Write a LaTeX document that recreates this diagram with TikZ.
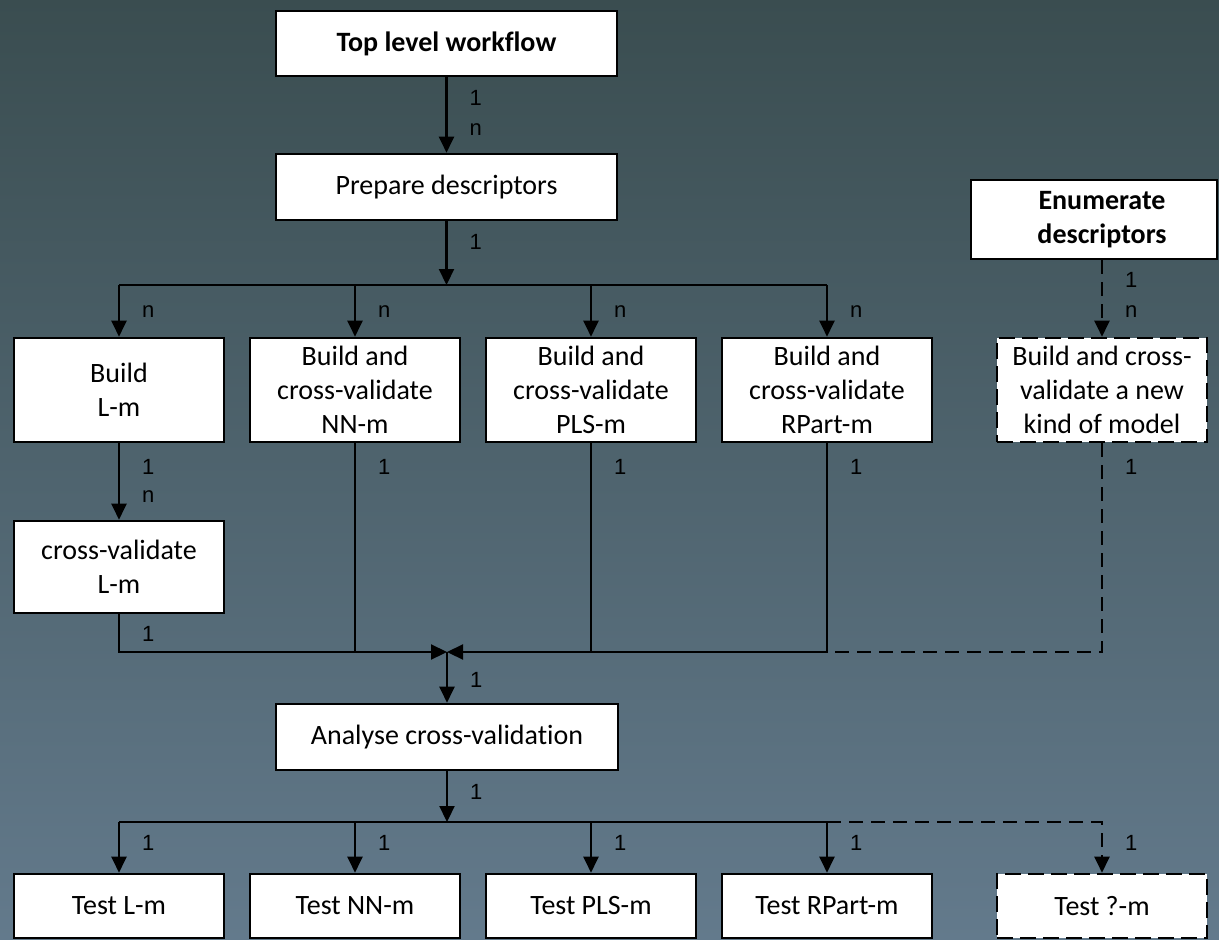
\documentclass[tikz,border=0pt]{standalone}
\usepackage{fontspec}
\setmainfont{Carlito}[Ligatures=NoCommon]
\newfontfamily\labelfont{Liberation Sans}
\usetikzlibrary{arrows.meta}

\definecolor{bgtop}{RGB}{58,77,80}
\definecolor{bgbottom}{RGB}{99,122,140}

\begin{document}
\begin{tikzpicture}[x=1pt,y=-1pt,
  box/.style={draw=black, fill=white, line width=2.6pt, rectangle, inner sep=0pt,
    align=center, font=\fontsize{28}{34}\selectfont},
  boldbox/.style={box, font=\bfseries\fontsize{28}{34}\selectfont},
  dbox/.style={box, dash pattern=on 16pt off 7pt},
  conn/.style={draw=black, line width=2.2pt},
  dconn/.style={conn, dash pattern=on 14pt off 8pt},
  arr/.style={conn, -{Triangle[length=16pt,width=15pt]}},
  darr/.style={dconn, -{Triangle[length=16pt,width=15pt]}},
  card/.style={anchor=west, inner sep=0pt, text=black,
    font=\labelfont\fontsize{22}{26}\selectfont}]

% background
\fill[top color=bgtop, bottom color=bgbottom] (0,0) rectangle (1219,940);
\useasboundingbox (0,0) rectangle (1219,940);

% boxes
\node[boldbox, minimum width=341pt, minimum height=65pt] (top) at (446.5,43.5) {Top level workflow};
\node[box, minimum width=341pt, minimum height=66pt] (prep) at (446.5,187) {Prepare descriptors};

\node[box, minimum width=246pt, minimum height=79pt] (enum) at (1094,219.5) {};
\node[align=center, inner sep=0pt, font=\bfseries\fontsize{28}{34}\selectfont] (enumtxt) at (1102,219.5) {Enumerate\\descriptors};

\node[box, minimum width=210pt, minimum height=104pt] (bL) at (119,390) {Build\\L-m};
\node[box, minimum width=210pt, minimum height=104pt] (bN) at (355,390) {Build and\\cross-validate\\NN-m};
\node[box, minimum width=210pt, minimum height=104pt] (bP) at (591,390) {Build and\\cross-validate\\PLS-m};
\node[box, minimum width=210pt, minimum height=104pt] (bR) at (827,390) {Build and\\cross-validate\\RPart-m};
\node[dbox, minimum width=210pt, minimum height=104pt] (newm) at (1102,390) {Build and cross-\\validate a new\\kind of model};

\node[box, minimum width=210pt, minimum height=92pt] (cvL) at (119,567) {cross-validate\\L-m};

\node[box, minimum width=342pt, minimum height=66pt] (ana) at (447,737) {Analyse cross-validation};

\node[box, minimum width=210pt, minimum height=64pt] (tL) at (119,906) {Test L-m};
\node[box, minimum width=210pt, minimum height=64pt] (tN) at (355,906) {Test NN-m};
\node[box, minimum width=210pt, minimum height=64pt] (tP) at (591,906) {Test PLS-m};
\node[box, minimum width=210pt, minimum height=64pt] (tR) at (827,906) {Test RPart-m};
\node[dbox, minimum width=210pt, minimum height=64pt] (tQ) at (1102,906) {Test ?-m};

% junction points
\coordinate (b1) at (446.5,285);
\coordinate (j) at (447,652);
\coordinate (b2) at (447,822);

% top part
\draw[arr] (top) -- (prep);
\draw[arr] (prep) -- (b1);
\draw[conn] (bL.north |- b1) -- (bR.north |- b1);
\foreach \n in {bL,bN,bP,bR}{\draw[arr] (\n.north |- b1) -- (\n);}
\draw[darr] (enumtxt |- enum.south) -- (newm);
\draw[arr] (bL) -- (cvL);

% merge into analysis
\draw[conn] (bN) -- (bN |- j);
\draw[conn] (bP) -- (bP |- j);
\draw[dconn] (newm) |- (bR |- j);
\draw[arr] (cvL) |- (j);
\draw[arr] (bR) |- (j);
\draw[arr] (j) -- (ana);

% tests
\draw[arr] (ana) -- (b2);
\draw[conn] (tL.north |- b2) -- (tR.north |- b2);
\foreach \n in {tL,tN,tP,tR}{\draw[arr] (\n.north |- b2) -- (\n);}
\draw[darr] (tR.north |- b2) -| (tQ);

% cardinalities
\node[card] (c1) at (469.5,98) {1};
\node[card] (c2) at (469.5,130) {n};
\node[card] (c3) at (469.5,242) {1};
\node[card] (c4) at (142,312) {n};
\node[card] (c5) at (378,312) {n};
\node[card] (c6) at (614,312) {n};
\node[card] (c7) at (850,312) {n};
\node[card] (c8) at (1125,280) {1};
\node[card] (c9) at (1125,312) {n};
\node[card] (c10) at (142,467) {1};
\node[card] (c11) at (142,497) {n};
\node[card] (c12) at (378,467) {1};
\node[card] (c13) at (614,467) {1};
\node[card] (c14) at (850,467) {1};
\node[card] (c15) at (1125,467) {1};
\node[card] (c16) at (142,634) {1};
\node[card] (c17) at (470,680) {1};
\node[card] (c18) at (470,792) {1};
\node[card] (c19) at (142,843) {1};
\node[card] (c20) at (378,843) {1};
\node[card] (c21) at (614,843) {1};
\node[card] (c22) at (850,843) {1};
\node[card] (c23) at (1125,843) {1};
\end{tikzpicture}
\end{document}
